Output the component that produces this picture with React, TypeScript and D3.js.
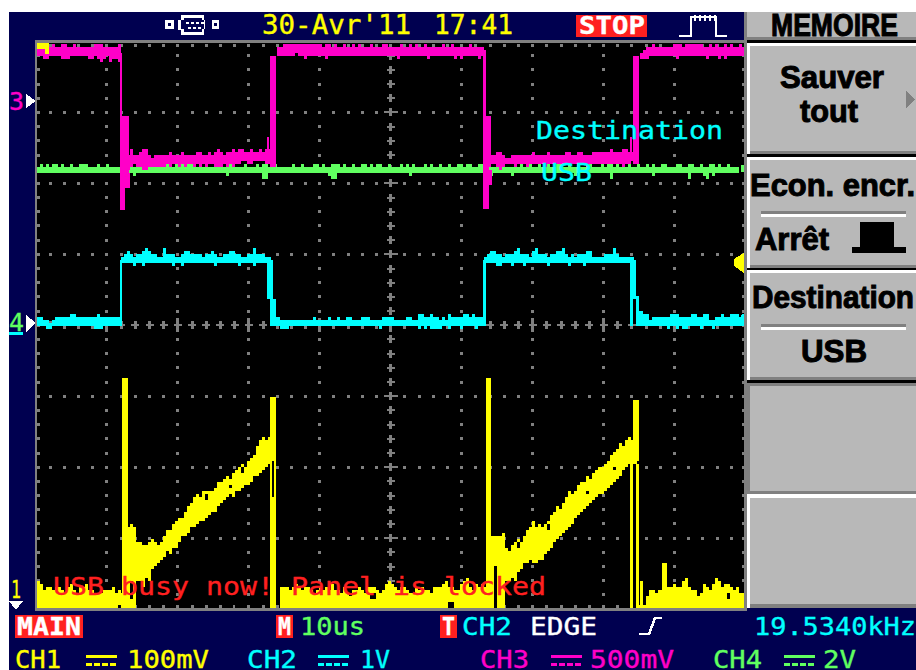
import React from "react";
import * as d3 from "d3";

// All trace data are in scope cells: sample index (time) and row (amplitude).
const magentaHigh1Start = 0;
const magentaHigh1Top = [186,186,186,186,186,187,186,186,187,187,186,186,187,186,186,186,186,186,186,187,187,187,186,186,186,186,186,187];
const magentaHigh1Bot = [184,184,183,183,184,184,184,184,183,183,183,184,184,184,184,184,184,183,183,184,183,182,183,184,182,183,183,182];
const magentaLow1Start = 29;
const magentaLow1Top = [150,150,152,150,150,151,152,152,150,149,150,150,150,150,150,151,150,150,150,151,150,150,150,150,151,151,150,150,151,150,151,152,151,150,151,151,152,151,152,152,151,151,152,151,151,152,151,152,152];
const magentaLow1Bot = [146,146,147,148,147,147,146,146,147,147,147,147,147,147,148,147,148,148,147,148,147,148,148,147,148,147,148,147,148,148,147,147,147,148,147,148,147,148,148,149,149,148,148,149,149,149,149,148,148];
const magentaHigh2Start = 80;
const magentaHigh2Top = [186,186,187,187,187,187,187,187,187,187,187,187,187,187,187,186,187,187,186,187,186,186,187,186,186,187,186,187,186,186,186,187,186,186,186,187,187,186,186,186,186,187,186,186,187,186,187,186,186,187,186,186,186,186,186,187,186,186,187,186,186,186,186,186,187,186,186,186,186];
const magentaHigh2Bot = [184,184,184,184,184,184,185,184,184,183,184,184,184,184,184,184,183,184,184,184,184,184,184,184,184,184,184,184,184,184,184,184,184,184,184,184,184,184,184,184,183,184,184,184,184,184,184,184,184,184,183,184,184,184,184,184,184,184,184,183,184,183,184,184,184,184,184,183,184];
const magentaLow2Start = 151;
const magentaLow2Top = [150,150,151,151,150,149,149,150,150,150,150,150,150,150,151,150,150,150,150,151,150,150,150,150,150,151,151,150,150,151,151,150,150,150,151,151,151,151,151,151,152,151,151,151,152,152,151,151];
const magentaLow2Bot = [148,148,147,146,147,148,148,148,147,148,148,148,147,148,148,148,148,148,147,148,148,148,148,148,148,148,148,148,148,148,148,148,147,148,148,148,148,148,148,148,148,148,148,148,147,148,148,149];
const magentaHigh3Start = 201;
const magentaHigh3Top = [184,185,186,186,187,186,186,186,186,186,186,187,187,187,186,187,187,187,187,187,187,186,186,187,186,187,186,186,187,186,187,186,186,187,186];
const magentaHigh3Bot = [183,183,183,184,184,184,184,184,184,184,184,184,183,184,184,184,184,184,184,184,184,184,183,184,184,184,183,184,183,184,184,184,184,184,184];
// Falling and rising edges: sample from, sample to, row from, row to.
const magentaEdges = [
  [27.7,28.3,164,185],[27.7,30.5,145,164],[27.7,29.3,132.7,146],[29.3,31,140,145],
  [77.7,79.7,147,184],[76.7,77.4,152,157],
  [148.7,149.7,164,186],[148.7,151.3,147,164],[148.7,150.7,133,147],[150.7,151.6,141,146],
  [198.7,200.7,148,184],[197.7,198.4,152,157],
] as const;

const cyanLow1Start = 0;
const cyanLow1Top = [96,96,95,95,94,95,96,96,96,96,96,97,97,96,96,96,96,96,96,96,97,96,96,96,96,96,96,96];
const cyanLow1Bot = [94,94,94,93,93,94,94,94,94,94,94,94,94,94,94,94,94,94,94,93,93,93,94,94,94,94,94,94];
const cyanHigh1Start = 28;
const cyanHigh1Top = [116,117,118,117,116,117,117,118,119,118,117,117,116,116,119,117,117,117,116,116,117,118,118,117,117,117,117,116,117,117,118,117,116,116,117,117,118,118,117,117,116,116,117,117,119,117,117,117,116,116];
const cyanHigh1Bot = [115,115,115,115,114,115,115,114,115,115,115,115,115,115,115,115,115,114,115,115,114,115,115,115,115,115,115,115,115,115,115,114,115,115,115,115,115,115,115,114,115,115,115,115,114,115,115,115,115,115];
const cyanLow2Start = 79;
const cyanLow2Top = [96,96,95,95,95,95,95,95,95,95,95,95,95,96,95,95,95,95,96,95,95,96,95,95,96,96,95,95,95,96,96,96,95,95,95,95,96,96,96,96,95,95,95,95,96,96,95,95,97,97,96,96,97,96,96,95,96,95,97,96,96,96,96,97,97,96,97,96,96,96];
const cyanLow2Bot = [94,94,93,93,93,94,94,94,94,94,94,94,94,94,94,94,94,94,94,94,94,94,94,94,94,94,94,94,94,94,94,94,94,94,94,93,94,94,94,94,94,94,94,94,94,94,94,94,93,94,93,94,93,93,93,93,94,94,93,94,94,94,93,94,94,94,94,93,94,94];
const cyanHigh2Start = 149;
const cyanHigh2Top = [116,117,118,118,117,117,116,117,117,117,118,119,117,117,117,116,118,119,117,117,117,116,117,117,118,118,119,117,116,117,116,117,117,117,118,118,116,116,116,116,117,117,117,119,117,116,116,116,116,116];
const cyanHigh2Bot = [115,115,115,115,114,114,115,115,115,114,115,115,115,114,115,115,115,115,115,115,115,114,115,115,115,115,115,115,114,115,115,115,115,114,115,115,115,115,115,115,115,115,115,115,115,115,115,115,115,115];
const cyanLow3Start = 200;
const cyanLow3Top = [98,98,97,97,95,96,96,96,96,96,96,97,97,97,96,96,96,96,97,97,96,96,97,97,95,95,96,96,97,96,96,97,97,97,96,97];
const cyanLow3Bot = [94,94,94,94,94,94,94,94,94,94,93,94,94,93,94,93,93,94,94,94,94,93,94,94,94,93,94,94,94,94,94,94,94,94,94,94];
const cyanEdges = [
  [27.7,28.4,94,116],[76.7,78.7,103,116],[77.7,79.7,94,103],
  [148.7,149.7,94,116],[197.7,199.7,103,116],[197.7,198.7,94,103],[197.7,200.7,103,104],[199.7,200.7,94,103],
] as const;

const greenTop = [146,147,146,147,146,147,147,146,147,146,146,147,146,146,147,147,147,146,146,146,147,146,146,147,146,146,146,146,147,147,146,147,146,146,147,146,146,146,146,147,147,146,147,147,147,146,147,147,147,147,147,147,146,146,147,146,147,146,146,147,146,147,146,146,147,147,146,146,146,147,146,146,146,147,146,147,147,146,146,147,146,146,146,146,146,147,146,146,147,146,146,146,147,147,146,147,146,146,147,147,147,146,147,146,146,147,146,146,147,147,146,147,146,147,147,146,146,147,146,146,146,147,146,147,146,147,146,146,146,147,146,147,146,146,147,146,146,147,146,146,147,147,146,147,147,146,146,147,147,146,147,146,146,147,147,147,146,146,146,147,146,147,146,146,147,146,146,147,146,147,147,146,146,147,147,146,146,147,146,146,147,146,146,147,147,146,146,146,147,146,147,147,146,147,146,146,146,147,146,146,147,146,146,147,146,147,146,146,147,147,146,146,146,147,147,146,146,147,147,146,146,147,146,146,147,147,146,147,146,146,147,146,146,146,147,147];
const greenBot = [145,145,145,145,145,145,145,145,145,145,145,145,145,145,145,145,145,145,145,145,145,145,145,145,145,145,145,145,145,145,145,145,144,145,145,145,145,145,145,145,145,145,145,145,145,145,145,145,145,145,145,145,145,145,145,145,145,145,145,145,145,145,145,144,145,145,145,145,145,145,145,145,145,145,145,143,143,145,145,145,145,145,145,145,145,145,145,145,145,145,145,145,145,145,145,145,145,144,143,143,145,145,145,145,145,145,145,145,145,145,145,145,145,145,145,145,145,145,145,145,145,145,145,145,144,145,145,145,145,145,145,145,145,145,145,145,145,145,145,145,145,145,145,145,145,145,145,145,145,145,145,144,145,145,145,145,145,145,144,145,145,145,145,145,145,145,145,145,145,145,145,145,145,145,145,145,145,145,145,144,145,145,145,145,145,145,145,145,145,145,145,143,145,145,145,145,145,145,145,145,145,145,145,145,145,144,145,145,145,145,145,145,145,145,145,145,145,143,145,145,145,145,144,143,145,144,145,145,145,145,145,145,145,145];

const yellowFloor1Start = 0;
const yellowFloor1 = [8,7,5,6,6,5,6,6,5,4,6,7,5,4,6,6,7,5,5,4,4,4,5,5,5,6,4,5,4,6,3];
const yellowRamp1Start = 29;
const yellowRamp1Top = [26,26,27,26,21,21,20,20,21,22,21,20,21,23,25,25,27,28,29,29,31,33,34,36,37,36,38,38,38,38,39,41,41,42,43,42,44,45,46,47,46,48,49,50,53,55,56,55,56];
const yellowRamp1Bot = [0,0,0,0,9,9,7,10,9,13,14,15,16,17,19,18,20,20,22,24,24,25,27,27,28,29,29,30,31,32,32,34,35,36,37,38,37,39,39,40,41,41,42,41,43,45,46,47,48];
const yellowFloor2Start = 81;
const yellowFloor2 = [6,6,6,5,6,7,6,5,6,6,5,4,5,6,5,6,5,7,5,5,4,6,4,3,5,5,6,5,4,6,6,6,5,4,5,7,8,7,6,5,6,6,5,4,4,6,5,6,5,5,4,6,6,6,7,8,6,6,5,5,7,8,9,6,5,7,6,7,6,7,6,5,6,5,4];
const yellowRamp2Start = 151;
const yellowRamp2Top = [23,23,23,23,24,19,18,20,21,22,21,23,25,26,28,26,27,26,27,28,30,31,33,32,34,36,38,37,38,40,41,41,43,42,44,45,46,46,47,48,50,51,52,54,53,55,56,55,56];
const yellowRamp2Bot = [0,0,0,0,0,9,9,10,9,12,13,15,15,16,15,15,16,16,18,19,20,22,23,24,25,26,27,28,30,31,32,33,34,35,36,37,38,38,39,40,41,42,43,44,46,47,48,48,48];
const yellowFloor3Start = 199;
const yellowFloor3 = [0,0,8,0,3,5,5,4,5,5,5,6,6,7,6,6,8,9,6,5,5,3,4,7,6,5,7,9,8,6,7,7,6,5,6,4,4,6,7];
// Spikes and tall strokes: sample from, sample to, row from, row to.
const yellowSpikes = [
  [28.3,30.3,0,76.7],[77.7,79.7,0,70.3],[149.7,151.4,0,76.7],[198.7,200.7,49,69.3],[197.7,198.7,0,48],[199.7,200.7,0,48],[208.3,210,0,15],
] as const;
const yellowHoles = [
  [78.3,79,49,37],[31,32,9,3],[41,42,28,26],[47,48,36,34],[56,57,38,36],[64,65,41,40],[68,69,47,45],[72,75,44,41],
  [152.3,153.3,14,0],[160,161,22,20],[170,171,28,26],[183,184,39,38],[192,193,47,46],[198.7,199.7,48,0],
  [66,68,1,0],[111,113,5,3],[27,28,1,0],[230,231,5,3],[137,139,2,0],
] as const;

const vDivisions = d3.range(0, 11);
const hDivisions = d3.range(0, 9);
const dotsPerDivision = 5;

const headerDate = "30-Avr'11";
const headerTime = "17:41";
const stopLabel = "STOP";
const lockMessage = "USB busy now! Panel is locked";
const overlayTitle = "Destination";
const overlayValue = "USB";
const menuTitle = "MEMOIRE";
const channelLabels = ["CH1", "CH2", "CH3", "CH4"];
const channelScales = ["100mV", "1V", "500mV", "2V"];
const timebaseLabel = "10us";
const triggerSource = "CH2";
const triggerMode = "EDGE";
const frequencyLabel = "19.5340kHz";

const NAVY = "#000050";
const GREY = "#808080";
const PANEL = "#b8b8b8";
const YELLOW = "#ffff00";
const CYAN = "#00ffff";
const MAGENTA = "#ff00c8";
const GREEN = "#60ff60";
const RED = "#ff2020";

const x = d3.scaleLinear().domain([0, 236]).range([37, 745]);
const y = d3.scaleLinear().domain([0, 189]).range([608, 41]);
const gridX = d3.scaleLinear().domain([0, 10]).range([36, 745.5]);
const gridY = d3.scaleLinear().domain([0, 8]).range([41.5, 609]);

const band = (start: number, top: number[], bot: number[], color: string, k: string) =>
  top.map((t, i) => (
    <rect key={k + i} x={x(start + i)} width={x(1) - x(0)} y={y(t + 1)} height={y(bot[i]) - y(t + 1)} fill={color} />
  ));
const floorBand = (start: number, top: number[], color: string, k: string) =>
  band(start, top, top.map(() => 0), color, k);
const spans = (list: readonly (readonly number[])[], color: string, k: string) =>
  list.map(([a, b, r0, r1], i) => (
    <rect key={k + i} x={x(a)} width={x(b) - x(a)} y={Math.min(y(r0), y(r1))} height={Math.abs(y(r1) - y(r0))} fill={color} />
  ));

type TP = { a: number; b: number; base: number; size: number; color: string; weight?: number; family?: string; stroke?: number; children: string };
const T = ({ a, b, base, size, color, weight = 400, family = "'DejaVu Sans Mono'", stroke = 0.35, children }: TP) => (
  <text x={a} y={base} fontFamily={family} fontSize={size} fontWeight={weight} fill={color} stroke={color} strokeWidth={stroke}
    textLength={b - a} lengthAdjust="spacingAndGlyphs" style={{ whiteSpace: "pre" }}>{children}</text>
);
const B = (p: Omit<TP, "size" | "color"> & { size?: number }) => (
  <T {...p} size={p.size ?? 31} color="#000" weight={700} family="'Liberation Sans'" stroke={1} />
);

const DashIcon = ({ a, color }: { a: number; color: string }) => (
  <g fill={color}>
    <rect x={a} y={655} width={31} height={3} />
    {d3.range(0, 4).map((i) => <rect key={i} x={a + i * 8} y={663} width={6} height={3} />)}
  </g>
);

export default function App() {
  const dots: React.ReactElement[] = [];
  const step = (gridX(1) - gridX(0)) / dotsPerDivision;
  vDivisions.forEach((v) => {
    d3.range(0, 41).forEach((j) => {
      const py = gridY(0) + j * step;
      const cx = v === 0 ? 38.5 : v === 10 ? 743.5 : gridX(v);
      dots.push(<rect key={`v${v}-${j}`} x={cx - 1.5} y={py - 1.5} width={3} height={3} fill={GREY} />);
    });
  });
  hDivisions.forEach((h) => {
    const cy = h === 0 ? 45 : h === 8 ? 606 : gridY(h);
    d3.range(1, 50).forEach((j) => {
      const px = gridX(0) + j * step;
      dots.push(<rect key={`h${h}-${j}`} x={px - 1.5} y={cy - 1.5} width={3} height={3} fill={GREY} />);
    });
  });
  // centre axes carry plus-shaped ticks
  d3.range(1, 50).forEach((j) => {
    const px = gridX(0) + j * step;
    const long = j % 5 === 0;
    dots.push(<rect key={`cx${j}`} x={px - 1.5} y={gridY(4) - (long ? 7 : 4)} width={3} height={long ? 14 : 8} fill={GREY} />);
    dots.push(<rect key={`cxh${j}`} x={px - 4} y={gridY(4) - 1} width={8} height={2} fill={GREY} />);
  });
  d3.range(1, 40).forEach((j) => {
    const py = gridY(0) + j * step;
    const long = j % 5 === 0;
    dots.push(<rect key={`cy${j}`} x={gridX(5) - (long ? 7 : 4)} y={py - 1} width={long ? 14 : 8} height={2} fill={GREY} />);
    dots.push(<rect key={`cyv${j}`} x={gridX(5) - 1.5} y={py - 4} width={3} height={8} fill={GREY} />);
  });

  return (
    <svg width={916} height={670} style={{ position: "fixed", left: 0, top: 0, background: "#fff" }}
      shapeRendering="crispEdges">
      <rect x={9} y={12} width={907} height={658} fill={NAVY} />
      <rect x={35} y={40} width={712} height={571} fill={GREY} />
      <rect x={37} y={43} width={707} height={565} fill="#000" />
      {dots}

      {/* traces */}
      {floorBand(yellowFloor1Start, yellowFloor1, YELLOW, "yf1")}
      {band(yellowRamp1Start, yellowRamp1Top, yellowRamp1Bot, YELLOW, "yr1")}
      {floorBand(yellowFloor2Start, yellowFloor2, YELLOW, "yf2")}
      {band(yellowRamp2Start, yellowRamp2Top, yellowRamp2Bot, YELLOW, "yr2")}
      {floorBand(yellowFloor3Start, yellowFloor3, YELLOW, "yf3")}
      {spans(yellowSpikes, YELLOW, "ys")}
      {spans(yellowHoles, "#000", "yh")}
      {band(cyanLow1Start, cyanLow1Top, cyanLow1Bot, CYAN, "cl1")}
      {band(cyanHigh1Start, cyanHigh1Top, cyanHigh1Bot, CYAN, "ch1")}
      {band(cyanLow2Start, cyanLow2Top, cyanLow2Bot, CYAN, "cl2")}
      {band(cyanHigh2Start, cyanHigh2Top, cyanHigh2Bot, CYAN, "ch2")}
      {band(cyanLow3Start, cyanLow3Top, cyanLow3Bot, CYAN, "cl3")}
      {spans(cyanEdges, CYAN, "ce")}
      {band(0, greenTop, greenBot, GREEN, "g")}
      {band(magentaHigh1Start, magentaHigh1Top, magentaHigh1Bot, MAGENTA, "m1")}
      {band(magentaLow1Start, magentaLow1Top, magentaLow1Bot, MAGENTA, "m2")}
      {band(magentaHigh2Start, magentaHigh2Top, magentaHigh2Bot, MAGENTA, "m3")}
      {band(magentaLow2Start, magentaLow2Top, magentaLow2Bot, MAGENTA, "m4")}
      {band(magentaHigh3Start, magentaHigh3Top, magentaHigh3Bot, MAGENTA, "m5")}
      {spans(magentaEdges, MAGENTA, "me")}

      {/* scope overlays */}
      <path d="M37 43H49V54H45V49H37Z" fill={YELLOW} />
      <path d="M744 253V273L734 266V259Z" fill={YELLOW} />
      <rect x={741} y={315} width={3} height={10} fill={CYAN} />
      <rect x={741} y={165} width={3} height={7} fill={GREEN} />
      <T a={53} b={546} base={595} size={25} color={RED}>{lockMessage}</T>
      <T a={536} b={723} base={139} size={25} color={CYAN}>{overlayTitle}</T>
      <T a={541} b={592} base={181} size={25} color={CYAN}>{overlayValue}</T>

      {/* header */}
      <g fill="#fff">
        <path fillRule="evenodd" d="M165 20H174V29H165ZM168 23V26H171V23ZM212 20H219V29H212ZM214 23V26H217V23Z" />
        <path fillRule="evenodd" d="M181 15H204V35H181V30H178V20H181ZM184 18V20H181V29H184V32H202V29H205V20H202V18Z" />
        {d3.range(0, 4).map((i) => <rect key={i} x={186 + i * 5} y={22} width={3} height={2} />)}
        {d3.range(0, 3).map((i) => <rect key={i} x={188 + i * 5} y={27} width={3} height={2} />)}
      </g>
      <T a={262} b={411} base={34} size={26} color={YELLOW}>{headerDate}</T>
      <T a={434} b={513} base={34} size={26} color={YELLOW}>{headerTime}</T>
      <rect x={576} y={15} width={71} height={22} fill={RED} />
      <T a={579} b={645} base={34} size={25} weight={700} color="#fff">{stopLabel}</T>
      <path d="M679 36H691V17H716V36H727" fill="none" stroke="#fff" strokeWidth={2.5} />
      {d3.range(0, 5).map((i) => <rect key={i} x={694 + i * 5} y={15} width={2} height={6} fill="#fff" />)}

      {/* side panel */}
      <rect x={744} y={12} width={172} height={596} fill={GREY} />
      <rect x={747} y={12} width={169} height={25} fill={PANEL} />
      <rect x={747} y={37} width={169} height={3} fill={GREY} />
      <rect x={747} y={40} width={169} height={3} fill="#000" />
      <rect x={747} y={43} width={169} height={3} fill="#fff" />
      <rect x={747} y={46} width={3} height={108} fill="#fff" />
      <rect x={750} y={46} width={166} height={105} fill={PANEL} />
      <rect x={750} y={151} width={166} height={3} fill={GREY} />
      <rect x={747} y={154} width={169} height={3} fill="#000" />
      <rect x={747} y={157} width={169} height={3} fill="#fff" />
      <rect x={747} y={160} width={3} height={108} fill="#fff" />
      <rect x={750} y={160} width={166} height={105} fill={PANEL} />
      <rect x={750} y={265} width={166} height={3} fill={GREY} />
      <rect x={747} y={268} width={169} height={2} fill="#000" />
      <rect x={747} y={270} width={169} height={3} fill="#fff" />
      <rect x={747} y={273} width={3} height={107} fill="#fff" />
      <rect x={750} y={273} width={166} height={104} fill={PANEL} />
      <rect x={750} y={377} width={166} height={3} fill={GREY} />
      <rect x={747} y={380} width={169} height={3} fill="#000" />
      <rect x={750} y={386} width={166} height={105} fill={PANEL} />
      <rect x={747} y={494} width={169} height={4} fill="#fff" />
      <rect x={747} y={498} width={3} height={110} fill="#fff" />
      <rect x={750} y={498} width={166} height={106} fill={PANEL} />
      <path d="M906 91V108L915 100Z" fill={GREY} />
      <rect x={761} y={211} width={145} height={3} fill={GREY} />
      <rect x={761} y={214} width={145} height={3} fill="#fff" />
      <rect x={761} y={324} width={145} height={3} fill={GREY} />
      <rect x={761} y={327} width={145} height={3} fill="#fff" />
      <path d="M860 222H894V247H906V253H852V247H860Z" fill="#000" />
      <B a={771} b={898} base={36} size={31}>{menuTitle}</B>
      <B a={780} b={884} base={88}>Sauver</B>
      <B a={800} b={858} base={122}>tout</B>
      <B a={750} b={915} base={196}>Econ. encr.</B>
      <B a={755} b={829} base={250}>Arrêt</B>
      <B a={752} b={914} base={308}>Destination</B>
      <B a={801} b={867} base={362}>USB</B>

      {/* channel markers */}
      <T a={9} b={24} base={110} size={25} color={MAGENTA}>3</T>
      <path d="M26 94L36 101L26 108Z" fill="#fff" />
      <T a={9} b={24} base={331} size={25} color={GREEN}>4</T>
      <rect x={9} y={332} width={14} height={3} fill={CYAN} />
      <path d="M26 315L36 323L26 332Z" fill="#fff" />
      <T a={11} b={21} base={598} size={25} color={YELLOW}>1</T>
      <path d="M9 601H23L16 610Z" fill="#fff" />

      {/* footer row 1 */}
      <rect x={15} y={615} width={68} height={23} fill={RED} />
      <T a={17} b={81} base={635} size={24} weight={700} color="#fff">MAIN</T>
      <rect x={276} y={615} width={17} height={23} fill={RED} />
      <T a={278} b={291} base={635} size={24} weight={700} color="#fff">M</T>
      <T a={300} b={365} base={635} size={24} color={GREEN}>{timebaseLabel}</T>
      <rect x={440} y={615} width={17} height={23} fill={RED} />
      <T a={442} b={455} base={635} size={24} weight={700} color="#fff">T</T>
      <T a={462} b={512} base={635} size={24} color={CYAN}>{triggerSource}</T>
      <T a={530} b={597} base={635} size={24} color="#fff">{triggerMode}</T>
      <path d="M639 634H649L655 618H662" fill="none" stroke="#fff" strokeWidth={2.5} />
      <T a={754} b={916} base={635} size={24} color={CYAN}>{frequencyLabel}</T>

      {/* footer row 2 */}
      <T a={15} b={61} base={668} size={24} color={YELLOW}>{channelLabels[0]}</T>
      <DashIcon a={86} color={YELLOW} />
      <T a={127} b={209} base={668} size={24} color={YELLOW}>{channelScales[0]}</T>
      <T a={247} b={297} base={668} size={24} color={CYAN}>{channelLabels[1]}</T>
      <DashIcon a={318} color={CYAN} />
      <T a={360} b={390} base={668} size={24} color={CYAN}>{channelScales[1]}</T>
      <T a={480} b={529} base={668} size={24} color={MAGENTA}>{channelLabels[2]}</T>
      <DashIcon a={551} color={MAGENTA} />
      <T a={590} b={674} base={668} size={24} color={MAGENTA}>{channelScales[2]}</T>
      <T a={713} b={762} base={668} size={24} color={GREEN}>{channelLabels[3]}</T>
      <DashIcon a={784} color={GREEN} />
      <T a={823} b={856} base={668} size={24} color={GREEN}>{channelScales[3]}</T>
    </svg>
  );
}
